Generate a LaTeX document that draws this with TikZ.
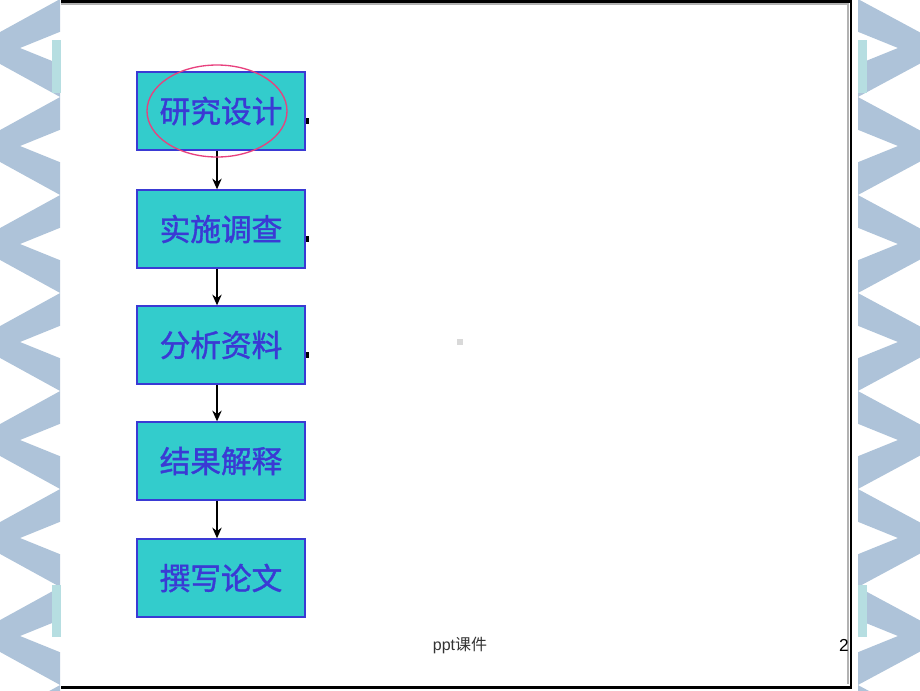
\documentclass[tikz,border=0pt]{standalone}
\usepackage{fontspec}
\setmainfont{Liberation Sans}
\newfontfamily\cjk{Noto Sans CJK SC}
\newfontfamily\cjkbox[FakeBold=1.3]{Noto Sans CJK SC}
\usepackage{tikz}
\usetikzlibrary{calc, positioning, arrows, arrows.meta}
\definecolor{chev}{HTML}{AEC3D9}
\definecolor{tab}{HTML}{B6DEE1}
\definecolor{boxfill}{HTML}{33CCCC}
\definecolor{boxline}{HTML}{3A3AD4}
\definecolor{ring}{HTML}{E8417E}
\tikzstyle{stage}=[draw=boxline, fill=boxfill, line width=1.5pt, minimum width=126pt, minimum height=58pt, inner sep=0pt, text=boxline, font=\fontsize{23}{27}\selectfont\cjkbox]
\tikzstyle{foot}=[inner sep=0pt, font=\fontsize{12}{14}\selectfont]
\tikzset{>={Stealth[length=8pt, width=7pt]}}

\begin{document}
\begin{tikzpicture}[x=0.75pt, y=-0.75pt]
\useasboundingbox (0,0) rectangle (920,690);

% side bands
\begin{scope}
\clip (0,0) rectangle (60,690);
\foreach \c in {-50,48,...,750}{
\fill[chev] (62,\c-50) -- (-29,\c) -- (62,\c+50) -- (62,\c+17) -- (20,\c) -- (62,\c-17) -- cycle;
}
\end{scope}
\begin{scope}
\clip (858,0) rectangle (920,690);
\foreach \c in {-50,48,...,750}{
\fill[chev] (856,\c-50) -- (949,\c) -- (856,\c+50) -- (856,\c+17) -- (898,\c) -- (856,\c-17) -- cycle;
}
\end{scope}
\fill[tab] (52,40) rectangle (61,93);
\fill[tab] (52,585) rectangle (61,637);
\fill[tab] (858,40) rectangle (867,93);
\fill[tab] (858,585) rectangle (867,637);

% frame
\draw[black!30, line width=1pt] (61,4) -- (848,4) -- (848,684);
\draw[line width=1.6pt] (61,1.5) -- (851,1.5) -- (851,687.5) -- (61,687.5);

\node[stage] (S0) at (221,111) {研究设计};
\node[stage] (S1) at (221,229) {实施调查};
\node[stage] (S2) at (221,345) {分析资料};
\node[stage] (S3) at (221,461) {结果解释};
\node[stage] (S4) at (221,578) {撰写论文};

\foreach \i in {0,...,3}{
\pgfmathtruncatemacro{\j}{\i+1}
\draw[->, line width=2pt] ([xshift=-3pt]S\i.south) -- ([xshift=-3pt]S\j.north);
}
\foreach \i in {0,1,2}{
\fill ([yshift=-5pt]S\i.east) rectangle ++(3,6);
}

\draw[ring, line width=1pt] ([xshift=-3pt]S0.center) ellipse [x radius=70, y radius=46];

\fill[black!15] (457,339) rectangle (463,345);

\node[foot, text=black!80] (note) at (460,645) {ppt{\cjk 课件}};
\node[foot, anchor=east, font=\fontsize{13}{15}\selectfont] (page) at (849,645) {2};
\end{tikzpicture}
\end{document}
